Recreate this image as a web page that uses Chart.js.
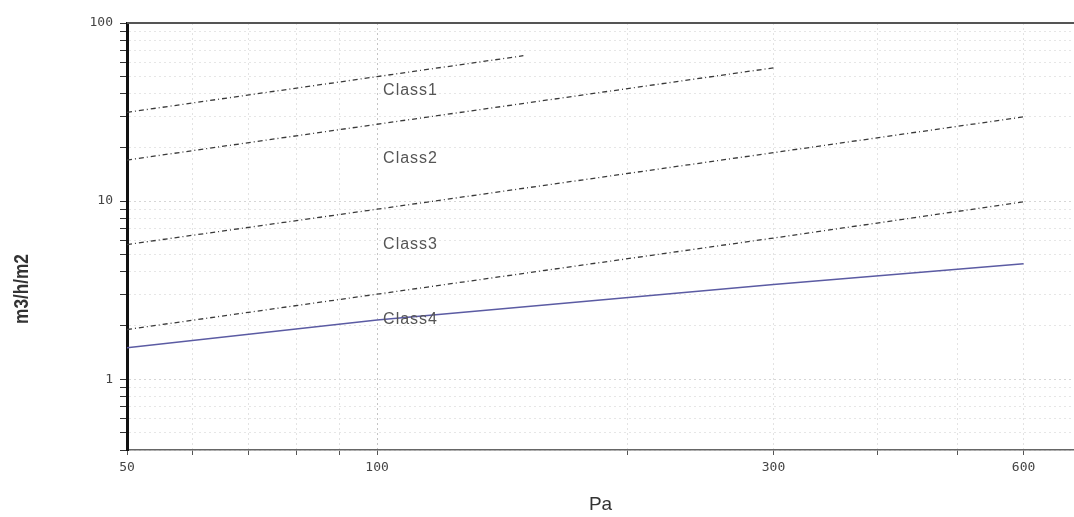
<!DOCTYPE html>
<html>
<head>
<meta charset="utf-8">
<script src="https://cdn.jsdelivr.net/npm/chart.js@4.4.1/dist/chart.umd.min.js"></script>
<style>
  html, body { margin: 0; padding: 0; background: #fff; overflow: hidden; }
  #wrap { width: 1074px; height: 517px; }
</style>
</head>
<body>
<div id="wrap"><canvas id="chart" width="1074" height="517"></canvas></div>
<script>
// pressure (Pa) vs air permeability (m3/h/m2)
const pressureClass1 = [50, 100, 150];
const class1 = [31.5, 50, 65.5];
const pressureClass2 = [50, 100, 300];
const class2 = [17, 27, 56];
const pressureClass34 = [50, 100, 300, 600];
const class3 = [5.7, 9, 18.7, 29.7];
const class4 = [1.9, 3, 6.2, 9.9];
const measured = [1.5, 2.15, 3.4, 4.45];

// text labels sitting just right of the 100 Pa line
const classNames = ['Class1', 'Class2', 'Class3', 'Class4'];
const classLabelY = [41.5, 17.4, 5.7, 2.17];
const classLabelX = 100;

const xTickLabels = [50, 100, 300, 600];
const yTickLabels = [1, 10, 100];

const toPoints = (xs, ys) => xs.map((x, i) => ({ x: x, y: ys[i] }));

// log scale adds 1.5 / 15 / max ticks, keep only 1..9 x 10^n
const keepWholeTicks = (scale) => {
  scale.ticks = scale.ticks.filter(t => {
    const m = t.value / Math.pow(10, Math.floor(Math.log10(t.value) + 1e-9));
    return Math.abs(m - Math.round(m)) < 1e-6;
  });
};

const dashed = {
  borderColor: '#3a3a3a',
  borderWidth: 1.3,
  borderDash: [5, 3, 1, 3],
  pointRadius: 0,
  fill: false
};

const extras = {
  id: 'extras',
  afterDatasetsDraw(chart) {
    const ctx = chart.ctx;
    const { x, y } = chart.scales;
    const area = chart.chartArea;

    // class names
    ctx.save();
    ctx.font = '16px "Liberation Sans", Arial, sans-serif';
    ctx.letterSpacing = '1px';
    ctx.fillStyle = '#555';
    ctx.textAlign = 'left';
    ctx.textBaseline = 'middle';
    classNames.forEach((name, i) => {
      ctx.fillText(name, x.getPixelForValue(classLabelX) + 6, y.getPixelForValue(classLabelY[i]));
    });
    ctx.restore();

    // top frame line
    ctx.save();
    ctx.strokeStyle = '#555';
    ctx.lineWidth = 2;
    ctx.beginPath();
    ctx.moveTo(area.left, area.top);
    ctx.lineTo(area.right, area.top);
    ctx.stroke();
    ctx.restore();

    // y axis title, sits a bit below the middle in the original
    ctx.save();
    ctx.translate(22, 289);
    ctx.rotate(-Math.PI / 2);
    ctx.scale(0.82, 1);
    ctx.font = 'bold 21px "Liberation Sans", sans-serif';
    ctx.fillStyle = '#333';
    ctx.textAlign = 'center';
    ctx.textBaseline = 'middle';
    ctx.fillText('m3/h/m2', 0, 0);
    ctx.restore();
  }
};

new Chart(document.getElementById('chart'), {
  type: 'line',
  data: {
    datasets: [
      { label: 'Class1', data: toPoints(pressureClass1, class1), ...dashed },
      { label: 'Class2', data: toPoints(pressureClass2, class2), ...dashed },
      { label: 'Class3', data: toPoints(pressureClass34, class3), ...dashed },
      { label: 'Class4', data: toPoints(pressureClass34, class4), ...dashed },
      {
        label: 'Measured',
        data: toPoints(pressureClass34, measured),
        borderColor: '#5b5ba3',
        borderWidth: 1.6,
        pointRadius: 0,
        fill: false
      }
    ]
  },
  options: {
    responsive: false,
    animation: false,
    layout: { padding: { top: 23, right: 0, left: 0, bottom: 0 } },
    plugins: {
      legend: { display: false },
      tooltip: { enabled: false }
    },
    scales: {
      x: {
        type: 'logarithmic',
        min: 50,
        max: 690,
        afterBuildTicks: keepWholeTicks,
        afterFit: (scale) => { scale.height = 67; },
        border: { display: true, color: '#666', width: 1.5, dash: [2, 3] },
        grid: {
          color: (c) => (c.tick && c.tick.value === 100) ? '#c4c4c4' : '#e3e3e3',
          lineWidth: 1,
          tickLength: 5,
          tickColor: '#555'
        },
        ticks: {
          autoSkip: false,
          maxRotation: 0,
          padding: 5,
          color: '#444',
          font: { family: '"DejaVu Sans Mono", monospace', size: 13 },
          callback: (v) => xTickLabels.includes(v) ? String(v) : ''
        },
        title: {
          display: true,
          text: 'Pa',
          color: '#333',
          font: { family: '"Liberation Sans", Arial, sans-serif', size: 19 },
          padding: { top: 0, bottom: 1 }
        }
      },
      y: {
        type: 'logarithmic',
        min: 0.4,
        max: 100,
        afterBuildTicks: keepWholeTicks,
        afterFit: (scale) => { scale.width = 127; },
        border: { display: true, color: '#111', width: 3, dash: [2, 3] },
        grid: {
          color: (c) => (c.tick && (c.tick.value === 1 || c.tick.value === 10)) ? '#d6d6d6' : '#e6e6e6',
          lineWidth: 1,
          tickLength: 7,
          tickColor: '#333'
        },
        ticks: {
          autoSkip: false,
          padding: 7,
          color: '#444',
          font: { family: '"DejaVu Sans Mono", monospace', size: 13 },
          callback: (v) => yTickLabels.includes(v) ? String(v) : ''
        }
      }
    }
  },
  plugins: [extras]
});
</script>
</body>
</html>
